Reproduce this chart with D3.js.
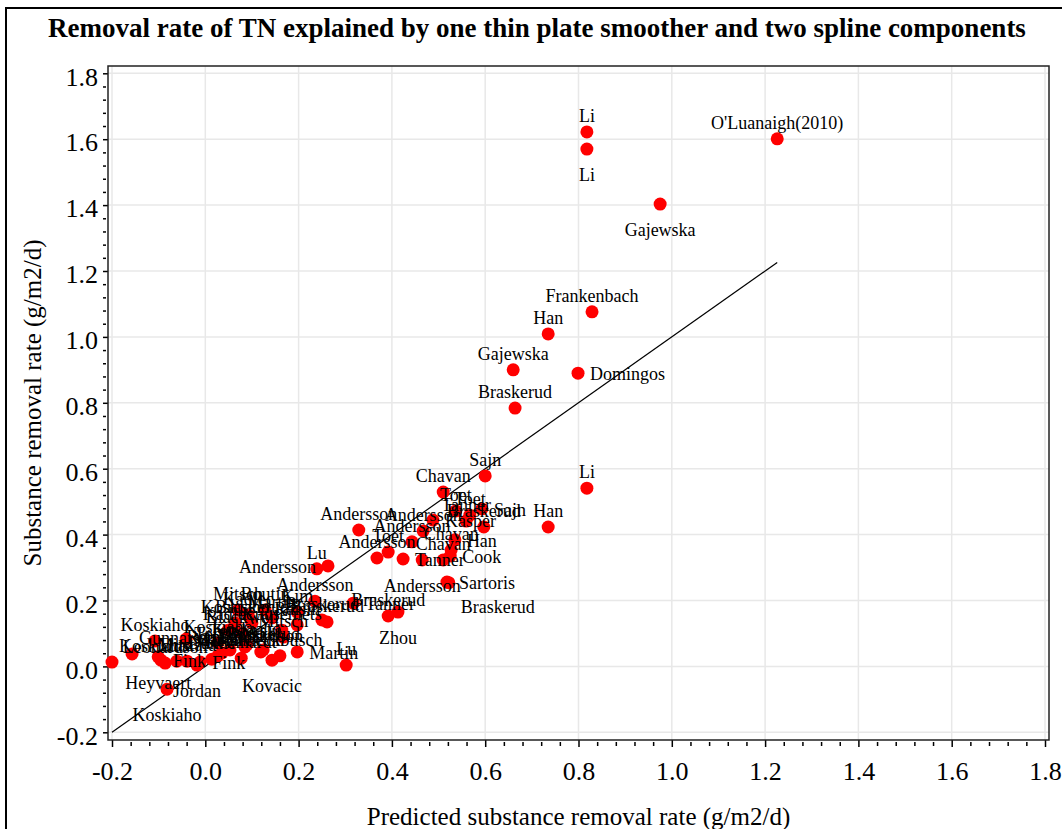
<!DOCTYPE html>
<html>
<head>
<meta charset="utf-8">
<script src="https://cdn.jsdelivr.net/npm/d3@7"></script>
<style>
  body { margin: 0; background: #fff; }
  text { font-family: "Liberation Serif", "Times New Roman", serif; fill: #000; }
</style>
</head>
<body>
<div id="vis"></div>
<script>
const WIDTH = 1062;
const HEIGHT = 829;

const TITLE = "Removal rate of TN explained by one thin plate smoother and two spline components";
const X_TITLE = "Predicted substance removal rate (g/m2/d)";
const Y_TITLE = "Substance removal rate (g/m2/d)";

// Datos: estudio, tasa predicha, tasa observada
const studies = [
  "Li", "Li", "O'Luanaigh(2010)", "Gajewska", "Frankenbach", "Han", "Gajewska", "Domingos",
  "Braskerud", "Sajn", "Li", "Han", "Sajn", "Chavan", "Toet", "Toet", "Braskerud", "Kasper",
  "Andersson", "Andersson", "Toet", "Andersson", "Chavan", "Chavan", "Han", "Andersson",
  "Sartoris", "Tanner", "Cook", "Andersson", "Tanner", "Zhou", "Braskerud", "Tanner",
  "Andersson", "Lu", "Andersson", "Lu", "Martin", "Braskerud", "Braskerud", "Kovacic",
  "Kieckbusch", "Mitsch", "Kuusemets", "Raisin", "Kim", "Martin", "Boutin", "Kadlec",
  "Mitsch", "Koskiaho", "Braskerud", "Kadlec", "Blackwell", "Koskiaho", "Tonderski",
  "Leonardson", "Reinhardt", "Koskiaho", "Heyvaert", "Jordan", "Fink", "Fink", "Koskiaho",
  "Koskiaho", "Gunnarsson", "Leonardson", "Diaz", "Mustafa", "Martin", "Tonderski",
  "Reinhardt", "Braskerud", "Dunne", "Koskiaho", "Gunnarsson", "Braskerud"
];
const predicted = [
  0.818, 0.818, 1.226, 0.975, 0.829, 0.735, 0.660, 0.799,
  0.664, 0.600, 0.818, 0.735, 0.593, 0.510, 0.537, 0.567, 0.597, 0.488,
  0.467, 0.443, 0.392, 0.329, 0.527, 0.510, 0.535, 0.465,
  0.518, 0.424, 0.525, 0.368, 0.559, 0.413, 0.392, 0.317,
  0.235, 0.239, 0.263, 0.302, 0.197, 0.261, 0.250, 0.143,
  0.160, 0.167, 0.164, 0.197, 0.197, 0.143, 0.128, 0.092,
  0.070, 0.064, 0.100, 0.049, 0.079, 0.027, 0.085,
  0.119, 0.077, -0.082, -0.101, -0.018, -0.095, -0.011, -0.200,
  -0.108, -0.157, -0.086, -0.061, -0.039, 0.027, 0.053,
  0.036, 0.124, 0.014, 0.089, -0.041, 0.522
];
const observed = [
  1.622, 1.570, 1.601, 1.403, 1.076, 1.009, 0.900, 0.890,
  0.784, 0.578, 0.541, 0.423, 0.478, 0.529, 0.472, 0.459, 0.423, 0.444,
  0.411, 0.378, 0.347, 0.414, 0.353, 0.323, 0.384, 0.323,
  0.256, 0.326, 0.335, 0.329, 0.441, 0.165, 0.153, 0.192,
  0.198, 0.296, 0.305, 0.004, 0.044, 0.135, 0.141, 0.019,
  0.032, 0.089, 0.110, 0.126, 0.165, 0.147, 0.171, 0.156,
  0.171, 0.132, 0.132, 0.110, 0.101, 0.071, 0.059,
  0.044, 0.025, -0.069, 0.029, 0.004, 0.019, 0.013, 0.013,
  0.077, 0.038, 0.010, 0.016, 0.016, 0.032, 0.050,
  0.041, 0.050, 0.022, 0.065, 0.083, 0.254
];
// Lado de la etiqueta respecto al punto
const labelSide = [
  "N", "S", "N", "S", "N", "N", "N", "E",
  "N", "N", "N", "N", "E", "N", "N", "N", "N", "E",
  "N", "N", "N", "N", "N", "N", "E", "S",
  "E", "E", "E", "N", "N", "S", "N", "E",
  "N", "N", "W", "N", "E", "N", "N", "S",
  "N", "N", "N", "N", "N", "N", "N", "N",
  "N", "N", "N", "N", "N", "N", "N",
  "N", "N", "S", "S", "S", "E", "E", "NE",
  "N", "NE", "N", "N", "N", "N", "N",
  "N", "N", "N", "N", "E", "SE"
];

const tickValues = [-0.2, 0.0, 0.2, 0.4, 0.6, 0.8, 1.0, 1.2, 1.4, 1.6, 1.8];

const SVG = d3.select("#vis").append("svg")
  .attr("width", WIDTH).attr("height", HEIGHT);

SVG.append("rect").attr("width", WIDTH).attr("height", HEIGHT).attr("fill", "#fff");

// Marco exterior (se sale por la derecha y abajo)
SVG.append("rect")
  .attr("x", 6).attr("y", 8)
  .attr("width", WIDTH + 20).attr("height", HEIGHT + 20)
  .attr("fill", "none").attr("stroke", "#000").attr("stroke-width", 2);

const FRAME = { left: 108, top: 66, right: 1049, bottom: 740 };

const x = d3.scaleLinear().domain([-0.2, 1.8]).range([112, 1045]);
const y = d3.scaleLinear().domain([-0.2, 1.8]).range([732.3, 73.3]);

const fmt = d => d3.format(".1f")(d).replace("\u2212", "-");

// ticks menores: 4 entre cada par de mayores
const minorTicks = [];
tickValues.slice(0, -1).forEach((t, i) => {
  const step = (tickValues[i + 1] - t) / 5;
  for (let k = 1; k < 5; k++) minorTicks.push(t + k * step);
});

// Grilla
SVG.append("g").selectAll("line.gx")
  .data(tickValues).enter().append("line")
  .attr("x1", d => x(d)).attr("x2", d => x(d))
  .attr("y1", FRAME.top).attr("y2", FRAME.bottom)
  .attr("stroke", "#e8e8e8").attr("stroke-width", 1.5);
SVG.append("g").selectAll("line.gy")
  .data(tickValues).enter().append("line")
  .attr("y1", d => y(d)).attr("y2", d => y(d))
  .attr("x1", FRAME.left).attr("x2", FRAME.right)
  .attr("stroke", "#e8e8e8").attr("stroke-width", 1.5);

// Ejes
const xAxis = SVG.append("g").attr("transform", `translate(0,${FRAME.bottom})`)
  .call(d3.axisBottom(x).tickValues(tickValues).tickSize(7).tickPadding(15).tickFormat(fmt));
const xMinor = SVG.append("g").attr("transform", `translate(0,${FRAME.bottom + 2})`)
  .call(d3.axisBottom(x).tickValues(minorTicks).tickSize(4).tickFormat(""));
const yAxis = SVG.append("g").attr("transform", `translate(${FRAME.left},0)`)
  .call(d3.axisLeft(y).tickValues(tickValues).tickSize(5).tickPadding(5).tickFormat(fmt));
const yMinor = SVG.append("g").attr("transform", `translate(${FRAME.left - 2},0)`)
  .call(d3.axisLeft(y).tickValues(minorTicks).tickSize(3).tickFormat(""));

[xAxis, xMinor, yAxis, yMinor].forEach(g => {
  g.select(".domain").remove();
  g.selectAll("line").attr("stroke", "#000").attr("stroke-width", 1.5);
});
xAxis.selectAll("text").style("font-size", "26px").attr("font-family", null);
yAxis.selectAll("text").style("font-size", "26px").attr("font-family", null).attr("dy", "0.45em");

// Marco del área de datos
SVG.append("rect")
  .attr("x", FRAME.left).attr("y", FRAME.top)
  .attr("width", FRAME.right - FRAME.left).attr("height", FRAME.bottom - FRAME.top)
  .attr("fill", "none").attr("stroke", "#222").attr("stroke-width", 1.5);

// Línea de referencia y = x
const [xmin, xmax] = d3.extent(predicted);
SVG.append("path")
  .attr("d", d3.line().x(d => x(d)).y(d => y(d))([xmin, xmax]))
  .attr("stroke", "#000").attr("stroke-width", 1.2).attr("fill", "none");

const rows = studies.map((s, i) => ({ name: s, px: predicted[i], ob: observed[i], side: labelSide[i] }));

// Puntos
SVG.append("g").selectAll("circle")
  .data(rows).enter().append("circle")
  .attr("cx", d => x(d.px)).attr("cy", d => y(d.ob))
  .attr("r", 6.5).attr("fill", "#ff0000");

// Etiquetas
const OFFSETS = {
  N: [0, -10, "middle"], S: [0, 32, "middle"],
  E: [12, 7, "start"], W: [-12, 7, "end"],
  NE: [7, -10, "start"], NW: [-7, -10, "end"],
  SE: [12, 30, "start"], SW: [-12, 30, "end"]
};
SVG.append("g").selectAll("text")
  .data(rows).enter().append("text")
  .attr("x", d => x(d.px) + OFFSETS[d.side][0])
  .attr("y", d => y(d.ob) + OFFSETS[d.side][1])
  .attr("text-anchor", d => OFFSETS[d.side][2])
  .style("font-size", "18px")
  .text(d => d.name);

// Títulos
SVG.append("text")
  .attr("x", 537).attr("y", 37)
  .attr("text-anchor", "middle")
  .style("font-size", "27px").style("font-weight", "bold")
  .text(TITLE);
SVG.append("text")
  .attr("x", (FRAME.left + FRAME.right) / 2).attr("y", 825)
  .attr("text-anchor", "middle")
  .style("font-size", "25px")
  .text(X_TITLE);
SVG.append("text")
  .attr("transform", `translate(41,${(FRAME.top + FRAME.bottom) / 2}) rotate(-90)`)
  .attr("text-anchor", "middle")
  .style("font-size", "25px")
  .text(Y_TITLE);
</script>
</body>
</html>
